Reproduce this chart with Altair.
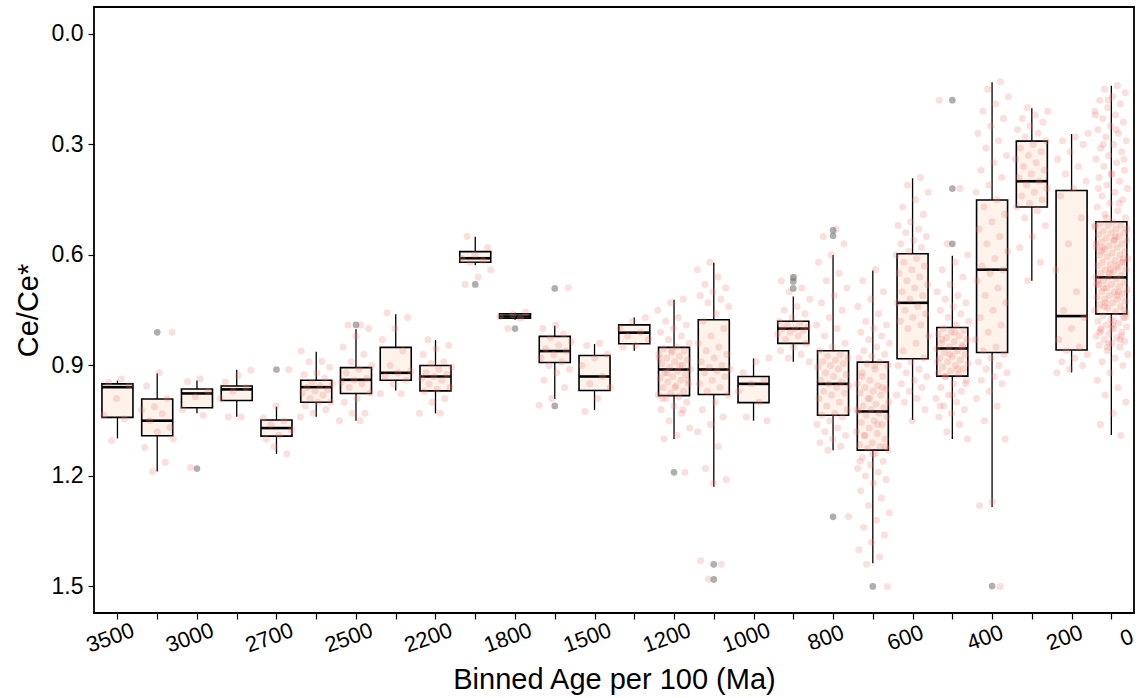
import json
import altair as alt
import pandas as pd

# ---------------- data ----------------
age_bins = [3500, 3200, 3000, 2800, 2700, 2600, 2500, 2400, 2200, 2000, 1800, 1600, 1500,
            1300, 1200, 1100, 1000, 900, 800, 700, 600, 500, 400, 300, 200, 100]
tick_labels = ["3500", "3000", "2700", "2500", "2200", "1800", "1500", "1200", "1000",
               "800", "600", "400", "200", "0"]

whisk_lo = [0.941, 0.921, 0.941, 0.912, 1.012, 0.863, 0.802, 0.761, 0.831, 0.551, 0.757, 0.792, 0.842,
            0.770, 0.722, 0.621, 0.881, 0.713, 0.600, 0.642, 0.392, 0.602, 0.131, 0.202, 0.272, 0.141]
q1 = [0.950, 0.991, 0.964, 0.956, 1.048, 0.940, 0.906, 0.851, 0.900, 0.591, 0.760, 0.821, 0.873,
      0.790, 0.851, 0.776, 0.930, 0.780, 0.860, 0.891, 0.597, 0.797, 0.451, 0.291, 0.425, 0.510]
median = [0.959, 1.050, 0.976, 0.965, 1.070, 0.959, 0.939, 0.920, 0.930, 0.609, 0.767, 0.861, 0.930,
          0.811, 0.911, 0.911, 0.950, 0.800, 0.950, 1.025, 0.730, 0.854, 0.640, 0.400, 0.766, 0.661]
q3 = [1.041, 1.091, 1.015, 0.995, 1.092, 1.000, 0.976, 0.940, 0.969, 0.620, 0.772, 0.892, 0.968,
      0.841, 0.982, 0.979, 1.001, 0.840, 1.035, 1.130, 0.882, 0.929, 0.865, 0.470, 0.858, 0.760]
whisk_hi = [1.098, 1.188, 1.030, 1.039, 1.140, 1.039, 1.050, 0.968, 1.030, 0.628, 0.776, 0.991, 1.021,
            0.860, 1.100, 1.229, 1.050, 0.890, 1.130, 1.437, 1.048, 1.100, 1.284, 0.670, 0.919, 1.089]

outlier_age = [3200, 3000, 2700, 2500, 2000, 1800, 1600, 1600, 1200, 1100, 1100,
               900, 900, 900, 800, 800, 800, 700, 500, 500, 500, 400]
outlier_val = [0.810, 1.180, 0.911, 0.790, 0.680, 0.800, 0.691, 1.010, 1.190, 1.440, 1.481,
               0.661, 0.672, 0.691, 0.533, 0.548, 1.311, 1.500, 0.180, 0.420, 0.570, 1.499]

pts_3500 = [0.937, 0.946, 0.953, 0.99, 1.035, 1.045, 1.104]
pts_3200 = [0.81, 0.92, 0.956, 0.99, 1.012, 1.021, 1.031, 1.05, 1.068, 1.08, 1.123, 1.163, 1.188, 1.10]
pts_3000 = [0.936, 0.944, 0.97, 0.985, 1.02, 1.035, 1.177]
pts_2800 = [0.913, 0.927, 0.945, 0.96, 0.97, 0.99, 1.04, 1.04]
pts_2700 = [0.911, 1.01, 1.043, 1.05, 1.06, 1.075, 1.09, 1.1, 1.14, 1.12]
pts_2600 = [0.861, 0.889, 0.89, 0.905, 0.92, 0.925, 0.935, 0.945, 0.95, 0.955, 0.96, 0.965, 0.97,
            0.975, 0.98, 0.99, 1.0, 1.0, 1.01, 1.02, 1.03, 1.04]
pts_2500 = [0.79, 0.79, 0.80, 0.82, 0.85, 0.87, 0.89, 0.90, 0.91, 0.92, 0.935, 0.94, 0.945, 0.95,
            0.96, 0.975, 0.99, 1.0, 1.03, 1.03, 1.05, 1.05]
pts_2400 = [0.757, 0.77, 0.80, 0.83, 0.86, 0.9, 0.915, 0.92, 0.93, 0.94, 0.95, 0.976, 0.976]
pts_2200 = [0.83, 0.845, 0.855, 0.87, 0.89, 0.895, 0.905, 0.91, 0.92, 0.925, 0.93, 0.935, 0.94,
            0.95, 0.96, 0.965, 0.97, 0.99, 1.0, 1.03, 1.03]
pts_2000 = [0.55, 0.58, 0.60, 0.61, 0.615, 0.62, 0.64, 0.66, 0.68]
pts_1800 = [0.756, 0.762, 0.768, 0.772, 0.80]
pts_1600 = [0.689, 0.79, 0.80, 0.815, 0.825, 0.835, 0.845, 0.855, 0.86, 0.87, 0.88, 0.89, 0.90,
            0.91, 0.92, 0.94, 0.96, 0.99, 1.008]
pts_1500 = [0.84, 0.845, 0.87, 0.88, 0.90, 0.93, 0.95, 0.96, 0.99, 1.025]
pts_1300 = [0.77, 0.78, 0.80, 0.81, 0.82, 0.83, 0.845, 0.85]
pts_1200 = [0.72, 0.73, 0.75, 0.77, 0.78, 0.79, 0.80, 0.81, 0.82, 0.83, 0.84, 0.85, 0.855, 0.86,
            0.865, 0.87, 0.875, 0.88, 0.885, 0.89, 0.895, 0.90, 0.905, 0.91, 0.915, 0.92, 0.925,
            0.93, 0.935, 0.94, 0.945, 0.95, 0.955, 0.96, 0.97, 0.975, 0.98, 0.985, 0.99, 1.0, 1.01,
            1.02, 1.03, 1.05, 1.07, 1.09, 1.10, 1.19, 0.86, 0.88, 0.90, 0.92, 0.94, 0.96, 0.99, 1.02]
pts_1100 = [0.62, 0.64, 0.66, 0.68, 0.69, 0.70, 0.71, 0.72, 0.73, 0.74, 0.76, 0.78, 0.80, 0.82,
            0.84, 0.85, 0.86, 0.87, 0.88, 0.89, 0.90, 0.905, 0.91, 0.915, 0.92, 0.93, 0.94, 0.95,
            0.96, 0.97, 0.98, 1.0, 1.02, 1.04, 1.06, 1.08, 1.12, 1.18, 1.21, 1.22, 1.43, 1.44, 1.48]
pts_1000 = [0.88, 0.89, 0.92, 0.94, 0.95, 0.97, 1.0, 1.04, 1.05]
pts_900 = [0.66, 0.67, 0.69, 0.70, 0.72, 0.74, 0.75, 0.76, 0.77, 0.78, 0.785, 0.79, 0.795, 0.80,
           0.80, 0.805, 0.81, 0.815, 0.82, 0.83, 0.84, 0.85, 0.86, 0.87, 0.88, 0.89]
pts_800 = [0.53, 0.55, 0.57, 0.60, 0.62, 0.65, 0.67, 0.69, 0.71, 0.73, 0.75, 0.77, 0.79, 0.80,
           0.82, 0.84, 0.85, 0.86, 0.87, 0.875, 0.88, 0.885, 0.89, 0.895, 0.90, 0.905, 0.91, 0.92,
           0.925, 0.93, 0.94, 0.945, 0.95, 0.955, 0.96, 0.97, 0.975, 0.98, 0.99, 1.0, 1.01, 1.02,
           1.03, 1.035, 1.04, 1.05, 1.06, 1.07, 1.08, 1.09, 1.10, 1.11, 1.12, 1.13, 1.31]
pts_700 = [0.64, 0.67, 0.70, 0.72, 0.74, 0.76, 0.78, 0.79, 0.80, 0.81, 0.82, 0.83, 0.84, 0.85,
           0.86, 0.87, 0.875, 0.88, 0.89, 0.895, 0.90, 0.91, 0.92, 0.93, 0.94, 0.95, 0.955, 0.96,
           0.965, 0.97, 0.975, 0.98, 0.99, 1.0, 1.005, 1.01, 1.015, 1.02, 1.025, 1.03, 1.035, 1.04,
           1.05, 1.055, 1.06, 1.07, 1.08, 1.085, 1.09, 1.10, 1.11, 1.115, 1.12, 1.125, 1.13, 1.14,
           1.15, 1.16, 1.17, 1.18, 1.19, 1.20, 1.21, 1.22, 1.24, 1.26, 1.28, 1.30, 1.32, 1.34, 1.36,
           1.38, 1.40, 1.42, 1.44, 1.50, 0.90, 0.93, 0.96, 0.99, 1.02, 1.06, 1.09, 1.12, 1.14, 1.16]
pts_600 = [0.39, 0.41, 0.43, 0.45, 0.47, 0.49, 0.51, 0.52, 0.53, 0.54, 0.55, 0.56, 0.57, 0.58,
           0.59, 0.60, 0.61, 0.62, 0.63, 0.64, 0.65, 0.66, 0.67, 0.68, 0.69, 0.70, 0.71, 0.72, 0.73,
           0.74, 0.75, 0.76, 0.77, 0.78, 0.79, 0.80, 0.82, 0.84, 0.86, 0.88, 0.89, 0.90, 0.91, 0.92,
           0.93, 0.94, 0.95, 0.96, 0.97, 0.98, 0.99, 1.0, 1.02, 1.05]
pts_500 = [0.18, 0.42, 0.57, 0.60, 0.62, 0.64, 0.66, 0.68, 0.70, 0.71, 0.72, 0.73, 0.74, 0.75,
           0.76, 0.77, 0.78, 0.79, 0.80, 0.805, 0.81, 0.815, 0.82, 0.825, 0.83, 0.835, 0.84, 0.845,
           0.85, 0.855, 0.86, 0.865, 0.87, 0.875, 0.88, 0.885, 0.89, 0.895, 0.90, 0.905, 0.91,
           0.915, 0.92, 0.925, 0.93, 0.94, 0.95, 0.96, 0.97, 0.98, 0.99, 1.0, 1.01, 1.02, 1.03,
           1.04, 1.06, 1.08, 1.10, 0.81, 0.83, 0.85, 0.87, 0.89, 0.91, 0.93, 0.95, 0.98, 1.01]
pts_400 = [0.13, 0.15, 0.17, 0.19, 0.21, 0.23, 0.25, 0.27, 0.29, 0.31, 0.33, 0.35, 0.37, 0.39,
           0.41, 0.43, 0.45, 0.47, 0.49, 0.51, 0.53, 0.55, 0.57, 0.59, 0.61, 0.63, 0.64, 0.65, 0.67,
           0.69, 0.71, 0.73, 0.75, 0.77, 0.79, 0.81, 0.83, 0.85, 0.86, 0.87, 0.88, 0.89, 0.90, 0.91,
           0.92, 0.93, 0.94, 0.95, 0.97, 0.99, 1.01, 1.05, 1.10, 1.27, 1.28, 1.50]
pts_300 = [0.20, 0.21, 0.22, 0.23, 0.24, 0.25, 0.26, 0.27, 0.28, 0.29, 0.30, 0.31, 0.32, 0.33,
           0.34, 0.35, 0.36, 0.37, 0.38, 0.39, 0.40, 0.41, 0.42, 0.43, 0.44, 0.45, 0.46, 0.47, 0.48,
           0.50, 0.52, 0.55, 0.58, 0.62, 0.67]
pts_200 = [0.27, 0.28, 0.29, 0.30, 0.32, 0.34, 0.36, 0.38, 0.40, 0.42, 0.44, 0.50, 0.57, 0.64,
           0.70, 0.75, 0.77, 0.80, 0.83, 0.85, 0.86, 0.87, 0.88, 0.89, 0.90, 0.91, 0.92]
pts_100 = [0.14, 0.15, 0.16, 0.17, 0.18, 0.19, 0.20, 0.21, 0.22, 0.23, 0.24, 0.25, 0.26, 0.27,
           0.28, 0.29, 0.30, 0.31, 0.32, 0.33, 0.34, 0.35, 0.36, 0.37, 0.38, 0.39, 0.40, 0.41, 0.42,
           0.43, 0.44, 0.45, 0.46, 0.47, 0.48, 0.49, 0.50,
           0.51, 0.515, 0.52, 0.52, 0.525, 0.53, 0.535, 0.54, 0.54, 0.545, 0.55, 0.555, 0.56, 0.56,
           0.565, 0.57, 0.575, 0.58, 0.58, 0.585, 0.59, 0.595, 0.60, 0.60, 0.605, 0.61, 0.615, 0.62,
           0.62, 0.625, 0.63, 0.635, 0.64, 0.64, 0.645, 0.65, 0.655, 0.66, 0.66, 0.665, 0.67, 0.675,
           0.68, 0.68, 0.685, 0.69, 0.695, 0.70, 0.70, 0.705, 0.71, 0.715, 0.72, 0.72, 0.725, 0.73,
           0.735, 0.74, 0.745, 0.75, 0.755,
           0.765, 0.77, 0.775, 0.78, 0.785, 0.79, 0.795, 0.80, 0.805, 0.81, 0.815, 0.82, 0.825,
           0.83, 0.835, 0.84, 0.845, 0.85, 0.86, 0.87, 0.88, 0.89, 0.90, 0.92, 0.94, 0.96, 0.98,
           1.0, 1.03, 1.06, 1.09,
           0.18, 0.22, 0.26, 0.30, 0.34, 0.38, 0.42, 0.46, 0.50, 0.53, 0.56, 0.59, 0.62, 0.65,
           0.68, 0.71, 0.74, 0.77, 0.79, 0.81, 0.83, 0.85, 0.52, 0.55, 0.58, 0.61, 0.64, 0.67,
           0.70, 0.73, 0.76, 0.78, 0.80, 0.82, 0.84, 0.57, 0.63, 0.69, 0.75, 0.80]

points = [pts_3500, pts_3200, pts_3000, pts_2800, pts_2700, pts_2600, pts_2500, pts_2400,
          pts_2200, pts_2000, pts_1800, pts_1600, pts_1500, pts_1300, pts_1200, pts_1100,
          pts_1000, pts_900, pts_800, pts_700, pts_600, pts_500, pts_400, pts_300, pts_200,
          pts_100]

# ---------------- tables ----------------
n = len(age_bins)
box_df = pd.DataFrame({"idx": list(range(n)), "age": age_bins, "wlo": whisk_lo, "q1": q1,
                       "med": median, "q3": q3, "whi": whisk_hi})
pt_df = pd.DataFrame([{"idx": i, "v": v} for i, col in enumerate(points) for v in col])
out_df = pd.DataFrame({"idx": [age_bins.index(a) for a in outlier_age], "v": outlier_val})

# ---------------- scales / axes ----------------
X_MIN, X_MAX = -0.59, 25.57
HALF_BOX = 0.39
FONT = "Liberation Sans"

xscale = alt.Scale(domain=[X_MIN, X_MAX], nice=False, zero=False)
yscale = alt.Scale(domain=[-0.073, 1.572], reverse=True, nice=False, zero=False)

tick_values = list(range(n)) + [X_MAX]
label_expr = ("datum.value > %s ? %s : (datum.value %% 2 == 0 ? %s[datum.value / 2] : '')"
              % (n - 0.8, json.dumps(tick_labels[-1]).replace('"', "'"),
                 json.dumps(tick_labels[:-1]).replace('"', "'")))

xaxis = alt.Axis(values=tick_values, labelExpr=label_expr, labelAngle=340, labelAlign="center",
                 labelBaseline="top", labelOffset=-11, labelPadding=9, labelFontSize=22,
                 labelOverlap=False, labelFlush=False, labelBound=False,
                 tickSize=6, tickWidth=1.2,
                 tickColor={"condition": {"test": "datum.value > %s" % (n - 0.8), "value": "transparent"},
                            "value": "black"},
                 domain=False, grid=False, title="Binned Age per 100 (Ma)", titleFontSize=29,
                 titleFontWeight="normal", titleY=75, titleBaseline="alphabetic",
                 labelColor="black", titleColor="black", labelFont=FONT, titleFont=FONT)
yaxis = alt.Axis(values=[0.0, 0.3, 0.6, 0.9, 1.2, 1.5], format=".1f", labelFontSize=23,
                 labelPadding=5, tickSize=6, tickWidth=1.2, tickColor="black", domain=False,
                 grid=False, title="Ce/Ce*", titleFontSize=29, titleFontWeight="normal",
                 titleX=-57, titleBaseline="alphabetic", labelColor="black", titleColor="black",
                 labelFont=FONT, titleFont=FONT)


def X(field):
    return alt.X(field, type="quantitative", scale=xscale, axis=xaxis, title="Binned Age per 100 (Ma)")


def Y(field):
    return alt.Y(field, type="quantitative", scale=yscale, axis=yaxis, title="Ce/Ce*")


base_box = alt.Chart(box_df).transform_calculate(
    x0="datum.idx - %s" % HALF_BOX, x1="datum.idx + %s" % HALF_BOX)

whisk_up = base_box.mark_rule(color="black", strokeWidth=1.3).encode(
    x=X("idx"), y=Y("wlo"), y2="q1:Q")
whisk_dn = base_box.mark_rule(color="black", strokeWidth=1.3).encode(
    x=X("idx"), y=Y("q3"), y2="whi:Q")
boxes = base_box.mark_rect(fill="#fdf3ea", stroke="black", strokeWidth=1.6).encode(
    x=X("x0"), x2="x1:Q", y=Y("q1"), y2="q3:Q")
meds = base_box.mark_rule(color="black", strokeWidth=2.6).encode(
    x=X("x0"), x2="x1:Q", y=Y("med"))

pts = alt.Chart(pt_df).transform_window(
    rn="row_number()"
).transform_calculate(
    xj="datum.idx + ((datum.rn * 0.6180339887) % 1 - 0.5) * 0.84"
).mark_circle(size=50, color="#f08078", opacity=0.25).encode(x=X("xj"), y=Y("v"))

outs = alt.Chart(out_df).mark_circle(size=45, color="#6e6e6e", opacity=0.55).encode(
    x=X("idx"), y=Y("v"))

chart = alt.layer(whisk_up, whisk_dn, boxes, meds, pts, outs).properties(
    width=1040, height=606,
    autosize=alt.AutoSizeParams(type="none"),
    padding={"left": 94, "top": 7, "right": 7, "bottom": 85},
    background="white",
).configure_view(stroke="black", strokeWidth=1.8).configure_axis(
    labelFont=FONT, titleFont=FONT)

chart.save("out.html", embed_options={"renderer": "svg", "actions": False})
